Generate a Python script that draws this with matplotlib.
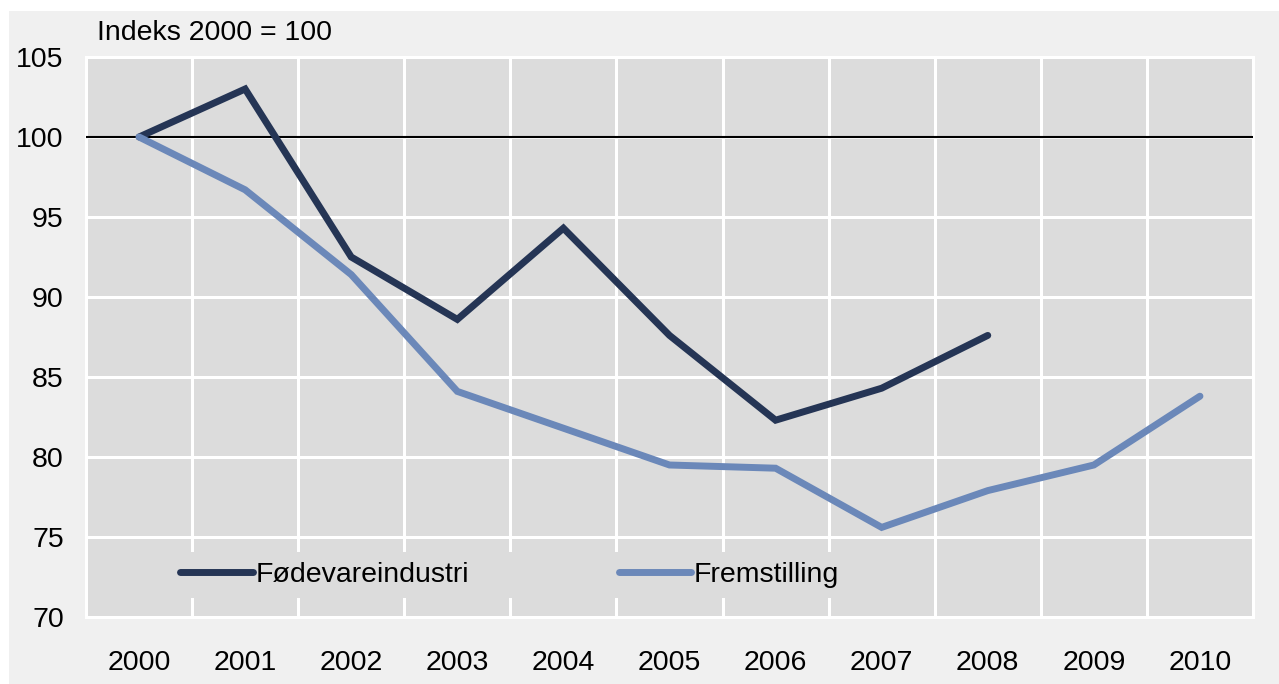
"""Indeks 2000 = 100: Fødevareindustri vs. Fremstilling."""

import matplotlib

matplotlib.use("Agg")
import matplotlib.pyplot as plt
from matplotlib.patches import Rectangle

# --- data -------------------------------------------------------------------
YEARS = ["2000", "2001", "2002", "2003", "2004", "2005",
         "2006", "2007", "2008", "2009", "2010"]
FOEDEVARE = [100.0, 103.0, 92.5, 88.6, 94.3, 87.6, 82.3, 84.3, 87.6]
FREMSTILLING = [100.0, 96.7, 91.4, 84.1, 81.8, 79.5, 79.3, 75.6, 77.9, 79.5, 83.8]
Y_TICKS = [70, 75, 80, 85, 90, 95, 100, 105]

COLOR_FOED = "#253555"
COLOR_FREM = "#6b88b9"
PLOT_BG = "#dcdcdc"
FIG_BG = "#f0f0f0"

plt.rcParams["font.family"] = ["Liberation Sans", "DejaVu Sans"]
FS = 20.5

W, H = 1279, 684
fig = plt.figure(figsize=(W / 100, H / 100), dpi=100, facecolor="white")

# light grey panel behind everything, leaving a thin white margin top/left
fig.patches.append(Rectangle((9 / W, 0), 1 - 9 / W, 1 - 11 / H,
                             transform=fig.transFigure, facecolor=FIG_BG,
                             edgecolor="none", zorder=-10))

left, right, top, bottom = 86, 1253, 57, 617
ax = fig.add_axes([left / W, 1 - bottom / H, (right - left) / W, (bottom - top) / H])
ax.set_facecolor(PLOT_BG)

x_foed = range(len(FOEDEVARE))
x_frem = range(len(FREMSTILLING))
ax.plot(x_foed, FOEDEVARE, color=COLOR_FOED, lw=5, solid_capstyle="round",
        solid_joinstyle="miter", label="Fødevareindustri", zorder=4)
ax.plot(x_frem, FREMSTILLING, color=COLOR_FREM, lw=5, solid_capstyle="round",
        solid_joinstyle="miter", label="Fremstilling", zorder=4)

ax.axhline(100, color="black", lw=1.5, zorder=3)

ax.set_xlim(-0.5, len(YEARS) - 0.5)
ax.set_ylim(70, 105)
ax.set_xticks(range(len(YEARS)))
ax.set_xticklabels(YEARS)
ax.set_xticks([i + 0.5 for i in range(len(YEARS) - 1)], minor=True)
ax.set_yticks(Y_TICKS)

ax.grid(which="minor", axis="x", color="white", lw=2.2, zorder=1)
ax.grid(which="major", axis="y", color="white", lw=2.2, zorder=1)
ax.grid(which="major", axis="x", visible=False)
ax.set_axisbelow(True)

ax.tick_params(which="both", length=0)
ax.tick_params(axis="x", pad=24, labelsize=FS)
ax.tick_params(axis="y", pad=16, labelsize=FS)
for s in ax.spines.values():
    s.set_color("white")
    s.set_linewidth(2.2)

leg = ax.legend(loc="lower left", bbox_to_anchor=(0.06, 0.008), ncol=2,
                fontsize=FS, frameon=True, facecolor=PLOT_BG, edgecolor="none",
                framealpha=1.0, handlelength=2.55, handletextpad=0.1,
                columnspacing=5.25, borderpad=0.35, fancybox=False)
leg.get_frame().set_linewidth(0)
leg.set_zorder(2)

fig.text(97 / W, 1 - 33 / H, "Indeks 2000 = 100", fontsize=FS,
         ha="left", va="center")

fig.savefig("out.png", dpi=100, facecolor=fig.get_facecolor())
